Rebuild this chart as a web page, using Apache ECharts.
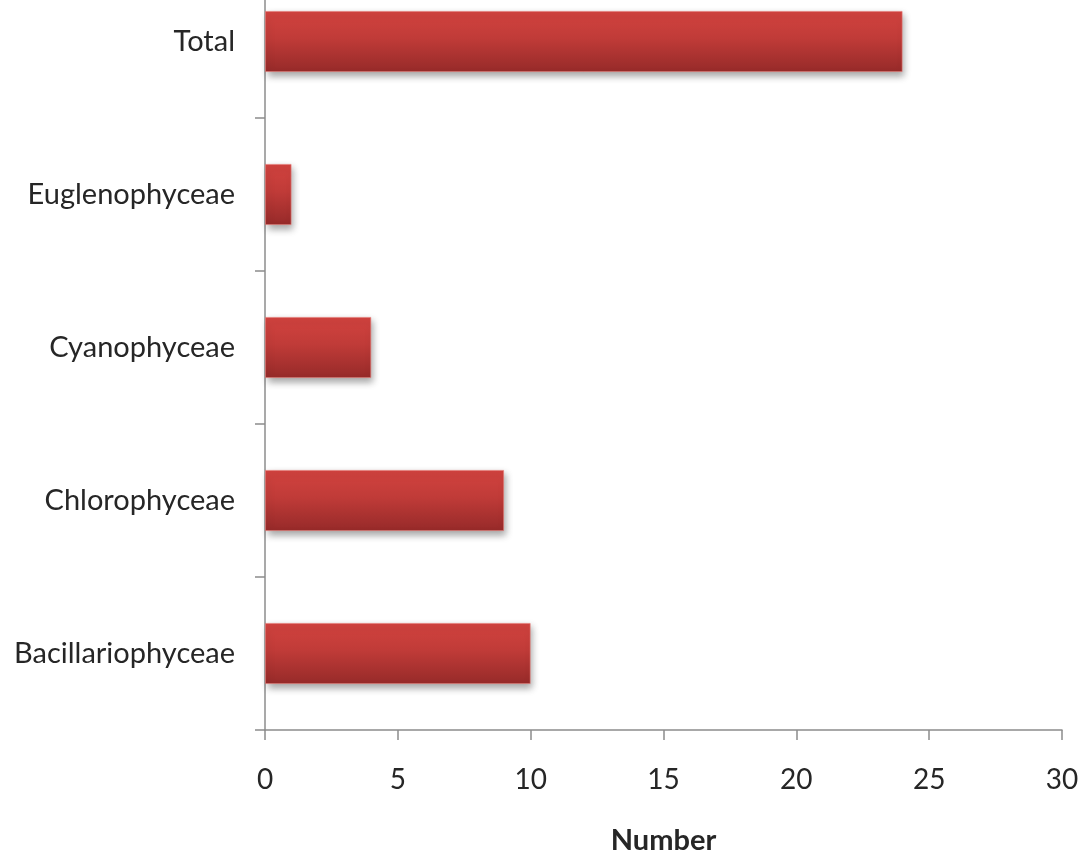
<!DOCTYPE html>
<html>
<head>
<meta charset="utf-8">
<script src="https://cdn.jsdelivr.net/npm/echarts@6/dist/echarts.min.js"></script>
<style>
  html, body { margin: 0; padding: 0; background: #ffffff; overflow: hidden; width: 1084px; height: 855px; }
  /* The plot runs a little above the top edge of the page */
  #chart { position: absolute; left: 0; top: -35px; width: 1084px; height: 890px; }
</style>
</head>
<body>
<div id="chart"></div>
<script>
// Algal classes, listed bottom to top on the category axis
const categories = ['Bacillariophyceae', 'Chlorophyceae', 'Cyanophyceae', 'Euglenophyceae', 'Total'];
const counts = [10, 9, 4, 1, 24];
const xTicks = { min: 0, max: 30, interval: 5 };

const FONT = 'Lato, "Open Sans", sans-serif';
const AXIS_GREY = '#8c8c8c';
const TEXT = '#262626';

const chart = echarts.init(document.getElementById('chart'), null, { width: 1084, height: 890 });
chart.setOption({
  backgroundColor: '#ffffff',
  animation: false,
  grid: { left: 265, right: 22, top: 0, bottom: 125, containLabel: false, outerBoundsMode: 'none' },
  xAxis: {
    type: 'value',
    min: xTicks.min, max: xTicks.max, interval: xTicks.interval,
    name: 'Number',
    nameLocation: 'middle',
    nameGap: 96,
    nameTextStyle: { fontFamily: FONT, fontSize: 29, fontWeight: 'bold', color: TEXT },
    axisLine: { show: true, lineStyle: { color: AXIS_GREY, width: 1.5 } },
    axisTick: { show: true, length: 10, inside: false, lineStyle: { color: AXIS_GREY, width: 1.5 } },
    axisLabel: { fontFamily: FONT, fontSize: 28, color: TEXT, margin: 36 },
    splitLine: { show: false }
  },
  yAxis: {
    type: 'category',
    data: categories,
    axisLine: { show: true, lineStyle: { color: AXIS_GREY, width: 1.5 } },
    axisTick: { show: true, length: 10, alignWithLabel: false, lineStyle: { color: AXIS_GREY, width: 1.5 } },
    axisLabel: { fontFamily: FONT, fontSize: 29, color: TEXT, margin: 30 }
  },
  series: [{
    type: 'bar',
    data: counts,
    barCategoryGap: '60%',
    itemStyle: {
      color: new echarts.graphic.LinearGradient(0, 0, 0, 1, [
        { offset: 0, color: '#d2433f' },
        { offset: 0.45, color: '#c03b38' },
        { offset: 1, color: '#962a29' }
      ]),
      borderColor: 'rgba(230,120,115,0.6)',
      borderWidth: 1,
      shadowColor: 'rgba(0,0,0,0.35)',
      shadowBlur: 7,
      shadowOffsetX: 2,
      shadowOffsetY: 4
    }
  }]
});
</script>
</body>
</html>
